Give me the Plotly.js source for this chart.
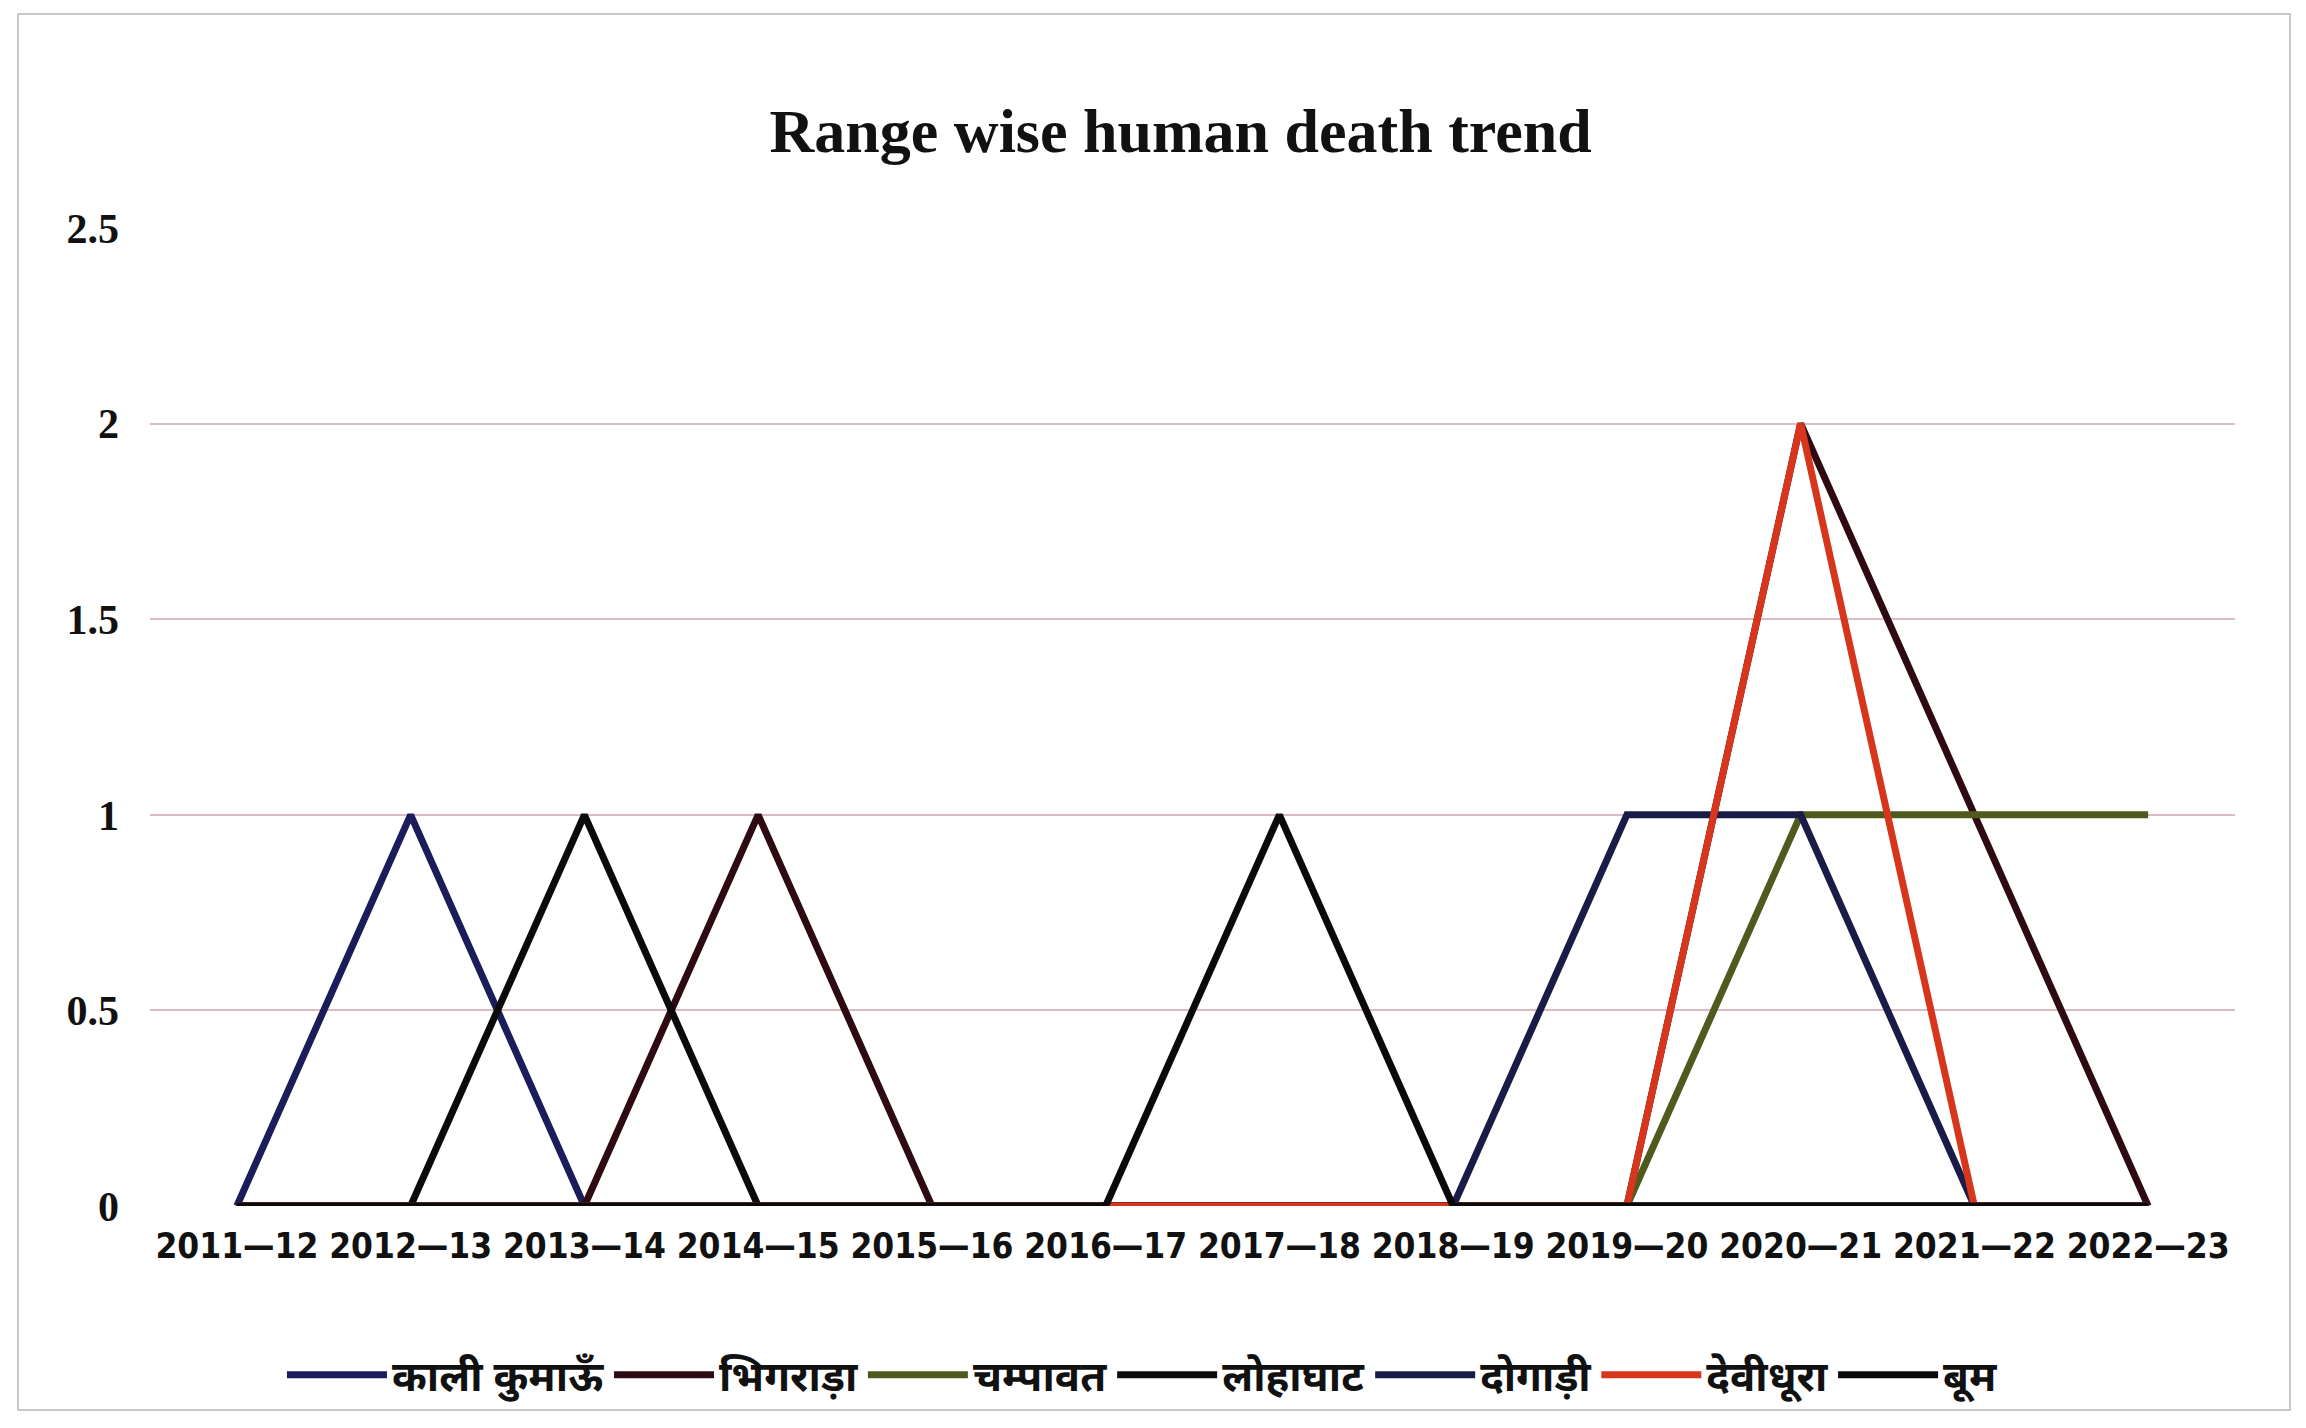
<!DOCTYPE html>
<html>
<head>
<meta charset="utf-8">
<script src="https://cdn.plot.ly/plotly-3.0.1.min.js"></script>
<style>
  html, body { margin: 0; padding: 0; background: #ffffff; }
  #chart { width: 2306px; height: 1428px; }
</style>
</head>
<body>
<div id="chart"></div>
<script>
// ---- data ----
const years = ["2011—12", "2012—13", "2013—14", "2014—15", "2015—16", "2016—17",
               "2017—18", "2018—19", "2019—20", "2020—21", "2021—22", "2022—23"];

const kaliKumaon = [0, 1, 0, 0, 0, 0, 0, 0, 0, 0, 0, 0];
const bhingrara  = [0, 0, 0, 1, 0, 0, 0, 0, 0, 2, 1, 0];
const champawat  = [0, 0, 0, 0, 0, 0, 0, 0, 0, 1, 1, 1];
const lohaghat   = [0, 0, 1, 0, 0, 0, 0, 0, 0, 0, 0, 0];
const dogari     = [0, 0, 0, 0, 0, 0, 0, 0, 1, 1, 0, 0];
const devidhura  = [0, 0, 0, 0, 0, 0, 0, 0, 0, 2, 0, 0];
const boom       = [0, 0, 0, 0, 0, 0, 1, 0, 0, 0, 0, 0];

const seriesNames = ["काली कुमाऊँ", "भिगराड़ा", "चम्पावत", "लोहाघाट", "दोगाड़ी", "देवीधूरा", "बूम"];
const seriesValues = [kaliKumaon, bhingrara, champawat, lohaghat, dogari, devidhura, boom];
const seriesColors = ["#1b1d5a", "#2e0b12", "#4f5a1e", "#0b0b0b", "#1a1c48", "#d8361c", "#0a0a0a"];

const traces = seriesNames.map((name, i) => ({
  type: "scatter",
  mode: "lines",
  name: name,
  x: years,
  y: seriesValues[i],
  line: { color: seriesColors[i], width: 7 },
  hoverinfo: "x+y+name"
}));

const W = 2306, H = 1428;
const L = 150, R = 71, T = 228, B = 222;
const pw = W - L - R, ph = H - T - B;
const px = v => (v - L) / pw;
const py = v => (H - B - v) / ph;

const layout = {
  width: W,
  height: H,
  paper_bgcolor: "#ffffff",
  plot_bgcolor: "#ffffff",
  margin: { l: L, r: R, t: T, b: B, pad: 0 },
  title: {
    text: "<b>Range wise human death trend</b>",
    font: { family: "Liberation Serif, Times New Roman, serif", size: 62, color: "#111111" },
    x: 0.512, xanchor: "center",
    y: 0.909, yanchor: "middle"
  },
  xaxis: {
    type: "category",
    range: [-0.5, 11.5],
    showgrid: false,
    zeroline: false,
    showline: false,
    ticks: "",
    tickangle: 0,
    ticklabelstandoff: 16,
    tickfont: { family: "DejaVu Sans Condensed, Liberation Sans Narrow, sans-serif", size: 35, color: "#111111", weight: "bold" }
  },
  yaxis: {
    range: [0, 2.5],
    tickvals: [0, 0.5, 1, 1.5, 2, 2.5],
    ticktext: ["0", "0.5", "1", "1.5", "2", "2.5"],
    showgrid: true,
    gridcolor: "#dcbcc4",
    gridwidth: 2,
    zeroline: false,
    showline: false,
    ticks: "",
    ticklabelstandoff: 30,
    tickfont: { family: "Liberation Serif, Times New Roman, serif", size: 42, color: "#111111", weight: "bold" }
  },
  showlegend: true,
  legend: {
    orientation: "h",
    x: 0.476, xanchor: "center",
    y: py(1375), yanchor: "middle",
    font: { family: "Noto Sans Devanagari, Noto Sans, Lohit Devanagari, sans-serif", size: 42, color: "#111111", weight: "bold" },
    itemwidth: 100,
    tracegroupgap: 0,
    bgcolor: "rgba(0,0,0,0)"
  },
  shapes: [
    {
      type: "rect", xref: "paper", yref: "paper",
      x0: px(18), x1: px(2290), y0: py(1410), y1: py(14),
      line: { color: "#c8c8c8", width: 2 },
      fillcolor: "rgba(0,0,0,0)",
      layer: "below"
    }
  ]
};

Plotly.newPlot("chart", traces, layout, { displayModeBar: false, staticPlot: true });
</script>
</body>
</html>
